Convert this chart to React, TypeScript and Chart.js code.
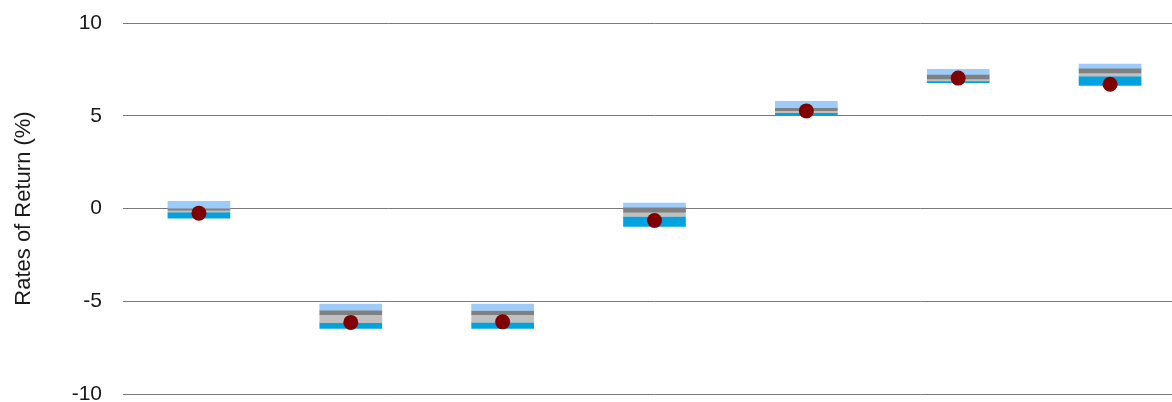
import React, { useEffect, useRef } from 'react';
import Chart from 'chart.js/auto';

// seven funds/periods, no category names shown on the axis
const categories = ['1', '2', '3', '4', '5', '6', '7'];

// band edges (top of light blue down to bottom of blue)
const bandTop = [0.38, -5.15, -5.15, 0.29, 5.78, 7.5, 7.78];
const bandUpper = [0.02, -5.48, -5.5, 0.07, 5.43, 7.23, 7.57];
const bandMiddle = [-0.09, -5.73, -5.73, -0.2, 5.27, 6.99, 7.31];
const bandLower = [-0.2, -6.16, -6.14, -0.43, 5.16, 6.88, 7.14];
const bandBottom = [-0.52, -6.47, -6.47, -0.96, 5.06, 6.79, 6.63];

// actual return (dots)
const actualReturn = [-0.25, -6.14, -6.11, -0.65, 5.26, 7.03, 6.7];

const yTicks = [-10, -5, 0, 5, 10];

const band = (lo: number[], hi: number[]) => categories.map((_, i) => [lo[i], hi[i]]);

const App: React.FC = () => {
  const canvasRef = useRef<HTMLCanvasElement>(null);
  const chartRef = useRef<Chart | null>(null);

  useEffect(() => {
    document.body.style.margin = '0';
    if (!canvasRef.current) return;

    const barStyle = {
      type: 'bar' as const,
      grouped: false,
      borderWidth: 0,
      barThickness: 62,
      order: 2,
    };

    chartRef.current = new Chart(canvasRef.current, {
      type: 'bar',
      data: {
        labels: categories,
        datasets: [
          { ...barStyle, data: band(bandUpper, bandTop) as any, backgroundColor: '#9dcbfa' },
          { ...barStyle, data: band(bandMiddle, bandUpper) as any, backgroundColor: '#808080' },
          { ...barStyle, data: band(bandLower, bandMiddle) as any, backgroundColor: '#c0c0c0' },
          { ...barStyle, data: band(bandBottom, bandLower) as any, backgroundColor: '#00a3e0' },
          {
            type: 'line',
            data: actualReturn,
            showLine: false,
            pointRadius: 7.5,
            pointHoverRadius: 7.5,
            pointBackgroundColor: '#800000',
            pointBorderWidth: 0,
            order: 1,
          } as any,
        ],
      },
      options: {
        responsive: true,
        maintainAspectRatio: false,
        animation: false,
        layout: { autoPadding: false, padding: { top: 23, bottom: 8, left: 0, right: 0 } },
        plugins: {
          legend: { display: false },
          tooltip: { enabled: false },
        },
        scales: {
          x: {
            display: false,
            offset: true,
          },
          y: {
            min: -10,
            max: 10,
            afterBuildTicks: (scale: any) => {
              scale.ticks = yTicks.map(v => ({ value: v }));
            },
            afterFit: (scale: any) => {
              scale.width = 123;
              // tick padding is only wanted horizontally
              scale.paddingTop = 0;
              scale.paddingBottom = 0;
            },
            border: { display: false },
            grid: { color: '#7a7a7a', lineWidth: 1, drawTicks: false },
            ticks: {
              padding: 21,
              color: '#1a1a1a',
              font: { family: '"Liberation Sans", Arial, sans-serif', size: 21 },
            },
            title: {
              display: true,
              text: 'Rates of Return (%)',
              color: '#1a1a1a',
              padding: { top: 11, bottom: 0 },
              font: { family: '"Liberation Sans", Arial, sans-serif', size: 22 },
            },
          },
        },
      },
    });

    return () => {
      chartRef.current?.destroy();
      chartRef.current = null;
    };
  }, []);

  return (
    <div style={{ width: 1172, height: 402, overflow: 'hidden' }}>
      <div style={{ width: 1186, height: 402, position: 'relative' }}>
        <canvas ref={canvasRef} />
      </div>
    </div>
  );
};

export default App;
